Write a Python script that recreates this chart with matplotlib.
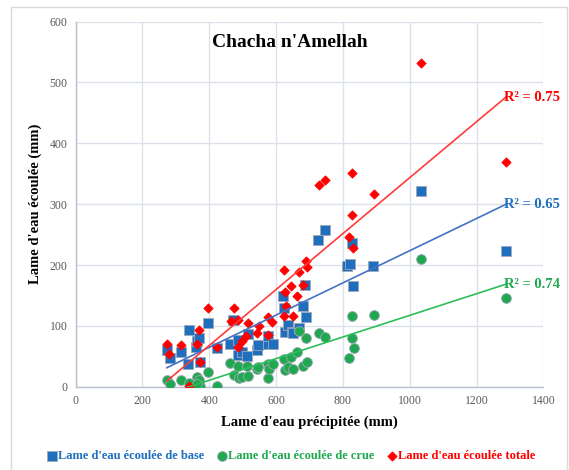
import numpy as np
import matplotlib.pyplot as plt
from matplotlib.patches import Rectangle

# Lame d'eau écoulée de base
x_base = [273, 281, 316, 339, 335, 360, 364, 369, 373, 397, 423, 463, 472, 487, 487,
          499, 512, 515, 543, 546, 575, 577, 591, 620, 623, 626, 635, 649, 652, 669,
          680, 687, 689, 724, 746, 813, 822, 828, 831, 891, 1034, 1288]
y_base = [60, 48, 57, 94, 38, 66, 76, 81, 40, 105, 64, 70, 109, 77, 52,
          58, 51, 86, 61, 69, 71, 83, 71, 149, 130, 90, 101, 90, 88, 97,
          133, 167, 115, 242, 258, 198, 202, 237, 165, 199, 322, 223]

# Lame d'eau écoulée de crue
x_crue = [273, 281, 316, 339, 362, 369, 373, 362, 397, 423, 463, 475, 487, 488, 499,
          512, 515, 543, 546, 575, 577, 578, 591, 624, 627, 635, 646, 652, 662, 669,
          681, 689, 691, 727, 747, 818, 826, 828, 833, 894, 1034, 1288]
y_crue = [11, 5, 12, 7, 16, 12, 1, 4, 24, 2, 39, 20, 34, 15, 16,
          34, 18, 29, 33, 14, 38, 30, 38, 45, 28, 33, 49, 29, 58, 92,
          34, 81, 40, 89, 82, 48, 81, 116, 64, 118, 210, 146]

# Lame d'eau écoulée totale
x_tot = [273, 279, 316, 339, 362, 368, 373, 397, 423, 464, 474, 487, 487, 499, 510,
         515, 542, 548, 575, 575, 589, 624, 627, 624, 631, 646, 651, 662, 669, 681,
         689, 691, 727, 747, 818, 826, 830, 828, 894, 1034, 1288]
y_tot = [70, 54, 69, 1, 70, 93, 40, 129, 65, 108, 129, 110, 66, 76, 83,
         105, 88, 100, 114, 85, 106, 192, 156, 117, 133, 165, 117, 150, 189, 167,
         207, 197, 331, 340, 246, 282, 228, 351, 317, 532, 369]

r2_labels = ["R² = 0.65", "R² = 0.74", "R² = 0.75"]

c_base, c_crue, c_tot = "#1F6FBF", "#1FA84F", "#FF0000"
l_base, l_crue, l_tot = "#4472C4", "#2DBE5A", "#FF3B3B"

plt.rcParams['font.family'] = ['Liberation Serif', 'DejaVu Serif']

fig = plt.figure(figsize=(5.69, 4.70), dpi=100)
fig.patches.append(Rectangle((0.019, -0.01), 0.977, 0.995, transform=fig.transFigure,
                             fill=False, edgecolor="#D9D9D9", linewidth=1.0))
ax = fig.add_axes([0.133, 0.177, 0.822, 0.777])

series = [(x_base, y_base, c_base, l_base, 's', 52, "Lame d'eau écoulée de base"),
          (x_crue, y_crue, c_crue, l_crue, 'o', 50, "Lame d'eau écoulée de crue"),
          (x_tot, y_tot, c_tot, l_tot, 'D', 22, "Lame d'eau écoulée totale")]

for (xs, ys, c, lc, m, s, lab), r2 in zip(series, r2_labels):
    xs = np.array(xs, float)
    ys = np.array(ys, float)
    ax.scatter(xs, ys, marker=m, s=s, color=c, edgecolors="#A0A8B8" if m != 'D' else c,
               linewidths=0.6, zorder=3, label=lab)
    a, b = np.polyfit(xs, ys, 1)
    xl = np.array([xs.min(), xs.max()])
    ax.plot(xl, a * xl + b, color=lc, linewidth=1.2, zorder=4)
    ax.text(xs.max() - 5, a * xs.max() + b, r2, color=c, fontsize=10.5,
            fontweight='bold', va='center', ha='left', zorder=5, clip_on=False)

ax.set_xlim(0, 1400)
ax.set_ylim(0, 600)
ax.set_xticks(range(0, 1401, 200))
ax.set_yticks(range(0, 601, 100))
ax.grid(True, color="#DDE1EA", linewidth=1.0)
ax.set_axisbelow(True)
for sp in ['top', 'right']:
    ax.spines[sp].set_visible(False)
for sp in ['left', 'bottom']:
    ax.spines[sp].set_color("#B8C0D0")
    ax.spines[sp].set_linewidth(1.0)
ax.tick_params(length=0, labelsize=8.5, labelcolor="#595959", pad=6)

ax.text(640, 566, "Chacha n'Amellah", fontsize=14, fontweight='bold', ha='center', va='center')
ax.set_xlabel("Lame d'eau précipitée (mm)", fontsize=10.5, fontweight='bold', labelpad=6)
ax.set_ylabel("Lame d'eau écoulée (mm)", fontsize=10.5, fontweight='bold', labelpad=5)

leg = ax.legend(loc='upper center', bbox_to_anchor=(0.46, -0.16), ncol=3, frameon=False,
                handletextpad=0.0, columnspacing=0.9, handlelength=1.0, borderaxespad=0,
                prop={'weight': 'bold', 'size': 9})
for t, c in zip(leg.get_texts(), [c_base, c_crue, c_tot]):
    t.set_color(c)

fig.savefig("out.png", dpi=100)
